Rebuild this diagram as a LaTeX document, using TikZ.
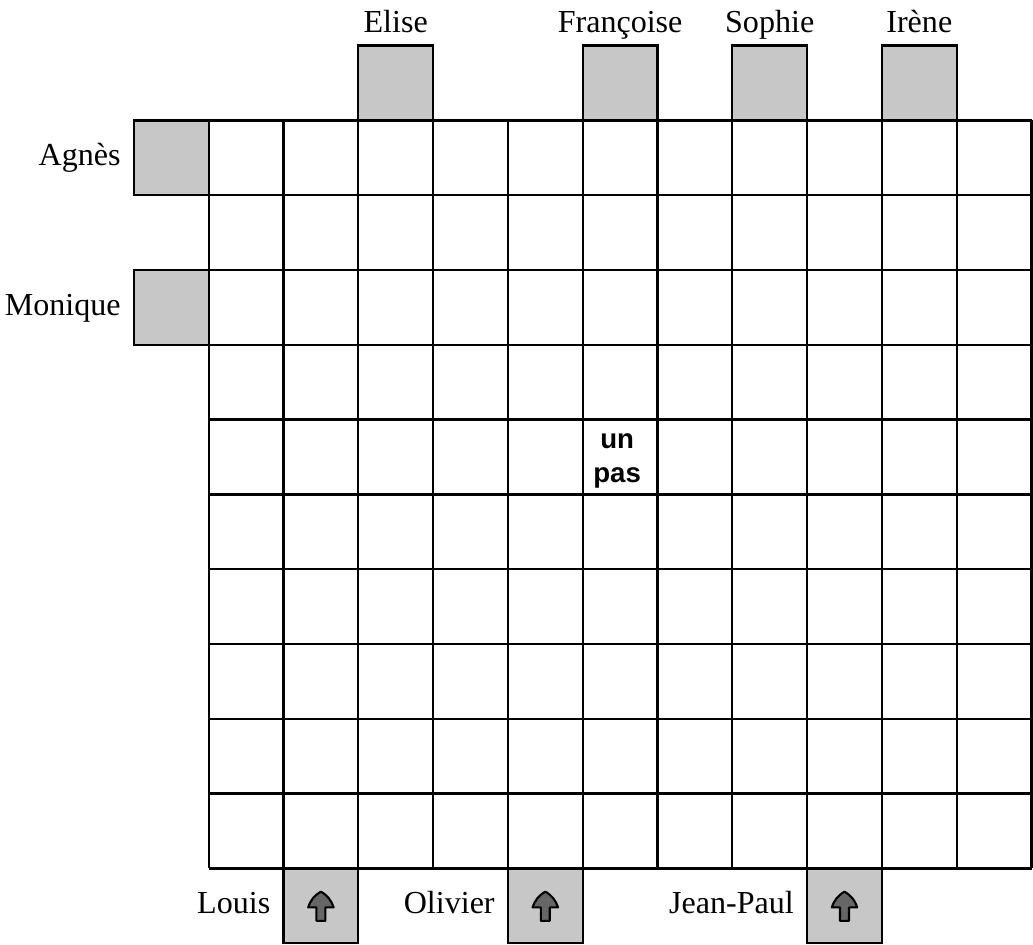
\documentclass[tikz,border=0pt]{standalone}
\usepackage{fontspec}
\setmainfont{Liberation Serif}
\newfontfamily\labelsans{Liberation Sans}
\usetikzlibrary{positioning}

\begin{document}
\begin{tikzpicture}[
    node distance=0.17cm,
    seat/.style={draw, fill=black!22, line width=0.9pt, minimum size=1cm, inner sep=0pt, outer sep=0pt, anchor=north west},
    seatlabel/.style={font=\fontsize{12.2}{14}\selectfont, inner sep=0pt, text height=1.6ex, text depth=0.3ex},
    mover/.style={draw=black, fill=black!60, line width=0.8pt, line join=round}
]
\useasboundingbox (-2.79,-11.02) rectangle (11.02,1.61);

% Grid of 11 x 10 cells
\draw[line width=0.9pt] (0,0) grid (11,-10);

% Left seats
\node[seat] (agnes) at (-1,0) {};
\node[seat] (monique) at (-1,-2) {};
\node[seatlabel, left=of agnes] {Agnès};
\node[seatlabel, left=of monique] {Monique};

% Top seats
\node[seat] (elise) at (2,1) {};
\node[seat] (francoise) at (5,1) {};
\node[seat] (sophie) at (7,1) {};
\node[seat] (irene) at (9,1) {};
\node[seatlabel, above=0.12cm of elise] {Elise};
\node[seatlabel, above=0.12cm of francoise] {Françoise};
\node[seatlabel, above=0.12cm of sophie] {Sophie};
\node[seatlabel, above=0.12cm of irene] {Irène};

% Bottom seats with arrows
\node[seat] (louis) at (1,-10) {};
\node[seat] (olivier) at (4,-10) {};
\node[seat] (jeanpaul) at (8,-10) {};
\node[seatlabel, left=of louis] {Louis};
\node[seatlabel, left=of olivier] {Olivier};
\node[seatlabel, left=of jeanpaul] {Jean-Paul};
\foreach \s in {louis, olivier, jeanpaul}
  \draw[mover, shift={(\s.center)}] (-0.06,-0.2) -- (0.06,-0.2) -- (0.06,-0.02)
    -- (0.17,-0.02) to[bend right=20] (0,0.19) to[bend right=20] (-0.17,-0.02)
    -- (-0.06,-0.02) -- cycle;

% Step label
\node[font=\labelsans\bfseries\fontsize{10.5}{13}\selectfont, align=center] (step) at (5.46,-4.55) {un\\pas};

\end{tikzpicture}
\end{document}
